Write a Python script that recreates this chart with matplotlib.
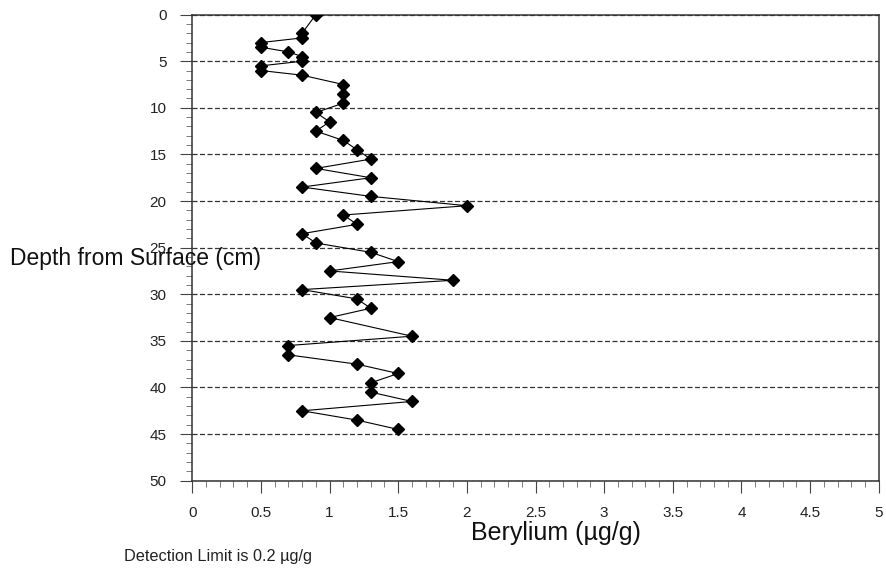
import matplotlib
matplotlib.use("Agg")
import matplotlib.pyplot as plt
from matplotlib.ticker import MultipleLocator

plt.rcParams['font.family'] = ['Liberation Sans', 'DejaVu Sans']

# Beryllium concentration (ug/g) by depth below surface (cm)
depth_cm = [0, 2, 2.5, 3, 3.5, 4, 4.5, 5, 5.5, 6, 6.5, 7.5, 8.5, 9.5,
            10.5, 11.5, 12.5, 13.5, 14.5, 15.5, 16.5, 17.5, 18.5, 19.5,
            20.5, 21.5, 22.5, 23.5, 24.5, 25.5, 26.5, 27.5, 28.5, 29.5,
            30.5, 31.5, 32.5, 34.5, 35.5, 36.5, 37.5, 38.5, 39.5, 40.5,
            41.5, 42.5, 43.5, 44.5]
beryllium = [0.9, 0.8, 0.8, 0.5, 0.5, 0.7, 0.8, 0.8, 0.5, 0.5, 0.8, 1.1, 1.1, 1.1,
             0.9, 1.0, 0.9, 1.1, 1.2, 1.3, 0.9, 1.3, 0.8, 1.3,
             2.0, 1.1, 1.2, 0.8, 0.9, 1.3, 1.5, 1.0, 1.9, 0.8,
             1.2, 1.3, 1.0, 1.6, 0.7, 0.7, 1.2, 1.5, 1.3, 1.3,
             1.6, 0.8, 1.2, 1.5]

x_ticks = [0, 0.5, 1, 1.5, 2, 2.5, 3, 3.5, 4, 4.5, 5]
x_tick_labels = ['0', '0.5', '1', '1.5', '2', '2.5', '3', '3.5', '4', '4.5', '5']
y_ticks = [0, 5, 10, 15, 20, 25, 30, 35, 40, 45, 50]

W, H = 887, 571
fig = plt.figure(figsize=(W / 100, H / 100), dpi=100)
ax = fig.add_axes([192.3 / W, 1 - 480.7 / H, (878.7 - 192.3) / W, (480.7 - 14.6) / H])

ax.plot(beryllium, depth_cm, color='black', lw=0.8, marker='D', ms=5.8,
        markerfacecolor='black', markeredgecolor='black', zorder=3)

ax.set_xlim(0, 5)
ax.set_ylim(50, 0)
ax.set_xticks(x_ticks)
ax.set_xticklabels(x_tick_labels)
ax.set_yticks(y_ticks)
ax.xaxis.set_minor_locator(MultipleLocator(0.1))
ax.yaxis.set_minor_locator(MultipleLocator(1))

ax.tick_params(axis='both', which='major', direction='out', length=8.5, width=0.8,
               color='#444444', labelsize=11, labelcolor='#222222')
ax.tick_params(axis='y', which='major', pad=10)
ax.tick_params(axis='x', which='major', pad=10)
ax.tick_params(axis='both', which='minor', direction='out', length=4, width=0.6,
               color='#666666')

ax.yaxis.grid(True, which='major', linestyle=(0, (4, 2)), color='#333333', lw=0.9)
ax.set_axisbelow(True)

for side in ['top', 'bottom', 'left', 'right']:
    ax.spines[side].set_linewidth(1.1)
    ax.spines[side].set_color('#333333')

fig.text(10 / W, 1 - 258 / H, 'Depth from Surface (cm)', fontsize=16.5,
         ha='left', va='center', color='#111111')
fig.text(556 / W, 1 - 533 / H, 'Berylium (µg/g)', fontsize=18,
         ha='center', va='center', color='#111111')
fig.text(124 / W, 1 - 557 / H, 'Detection Limit is 0.2 µg/g', fontsize=11.7,
         ha='left', va='center', color='#222222')

fig.savefig('out.png', dpi=100)
